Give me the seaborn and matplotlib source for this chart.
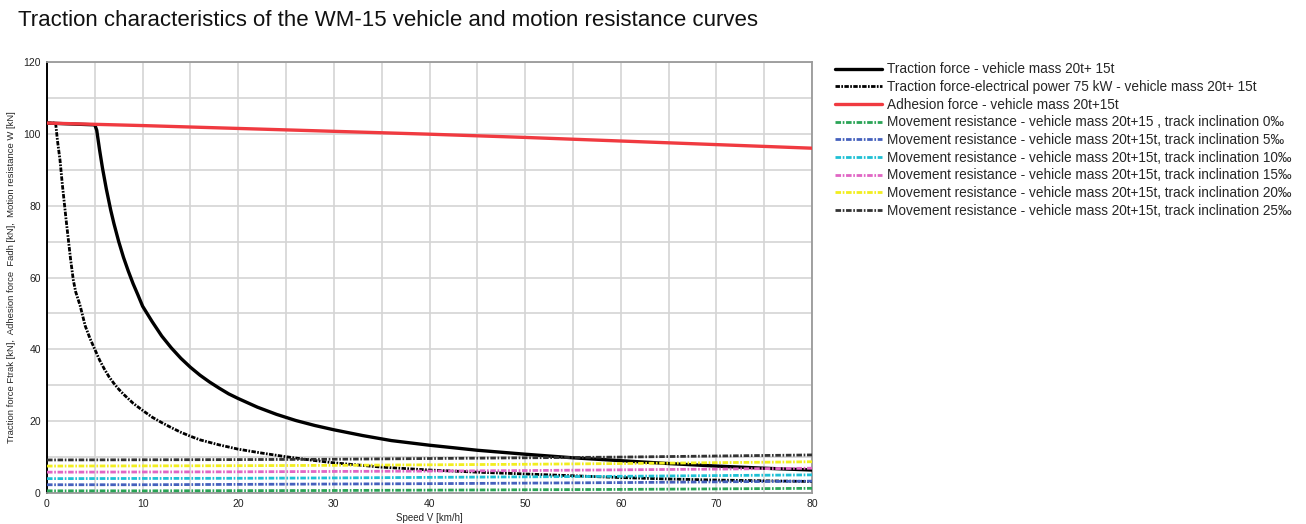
import numpy as np
import pandas as pd
import matplotlib
matplotlib.use("Agg")
import matplotlib.pyplot as plt
import seaborn as sns

# ---------------- data ----------------
trac_v = [0, 5.0, 5.2, 5.5, 5.8, 6.2, 6.66, 7, 7.5, 8, 8.5, 9, 9.5, 10, 11, 12, 13,
          14, 15, 16, 17, 18, 19, 20, 22, 24, 26, 28, 30, 33, 36, 40, 45, 50, 55,
          60, 65, 70, 75, 80]
trac_f = [103.0, 102.5, 101.0, 95.5, 90.5, 84.7, 78.8, 75.0, 70.0, 65.6, 61.8, 58.3,
          55.2, 52.0, 47.7, 43.7, 40.4, 37.5, 35.0, 32.8, 30.9, 29.2, 27.6, 26.3,
          23.9, 21.9, 20.2, 18.8, 17.6, 16.0, 14.6, 13.3, 11.9, 10.8, 9.8, 9.0, 8.2,
          7.5, 6.9, 6.4]

el_v = [0, 0.9, 1.1, 1.36, 1.6, 2.0, 2.47, 2.75, 3.0, 3.45, 4, 4.5, 5, 5.5, 6, 6.5,
        7, 7.5, 8, 9, 10, 11, 12, 13, 14, 15, 16, 18, 20, 22.5, 25, 27.5, 30, 35,
        40, 45, 50, 55, 60, 65, 70, 75, 80]
el_f = [103.0, 103.0, 98.0, 92.7, 86.0, 76.0, 65.0, 59.3, 56.0, 52.3, 46.5, 43.0,
        40.0, 37.0, 34.5, 32.3, 30.5, 28.9, 27.5, 25.0, 23.0, 21.1, 19.6, 18.2, 16.9,
        15.8, 14.8, 13.4, 12.2, 11.1, 10.1, 9.2, 8.4, 7.2, 6.4, 5.8, 5.3, 4.8, 4.3,
        3.9, 3.6, 3.4, 3.2]

adh_v = [0, 10, 20, 30, 40, 50, 60, 70, 80]
adh_f = [103.0, 102.3, 101.5, 100.7, 99.9, 99.0, 98.0, 97.0, 96.0]

res_v = [0, 10, 20, 30, 40, 50, 60, 70, 80]
res_0 = [0.6, 0.6, 0.65, 0.7, 0.8, 0.9, 1.0, 1.15, 1.3]
res_5 = [2.3, 2.3, 2.4, 2.5, 2.6, 2.75, 2.9, 3.1, 3.3]
res_10 = [4.0, 4.05, 4.1, 4.2, 4.35, 4.5, 4.65, 4.85, 5.05]
res_15 = [5.8, 5.85, 5.9, 6.0, 6.1, 6.25, 6.45, 6.65, 6.9]
res_20 = [7.5, 7.55, 7.6, 7.7, 7.85, 8.0, 8.2, 8.45, 8.7]
res_25 = [9.2, 9.25, 9.3, 9.4, 9.6, 9.8, 10.0, 10.3, 10.6]

labels = [
    "Traction force - vehicle mass 20t+ 15t",
    "Traction force-electrical power 75 kW - vehicle mass 20t+ 15t",
    "Adhesion force - vehicle mass 20t+15t",
    "Movement resistance - vehicle mass 20t+15 , track inclination 0‰",
    "Movement resistance - vehicle mass 20t+15t, track inclination 5‰",
    "Movement resistance - vehicle mass 20t+15t, track inclination 10‰",
    "Movement resistance - vehicle mass 20t+15t, track inclination 15‰",
    "Movement resistance - vehicle mass 20t+15t, track inclination 20‰",
    "Movement resistance - vehicle mass 20t+15t, track inclination 25‰",
]

# ---------------- styling ----------------
sns.set_style("white")
plt.rcParams['font.family'] = ['Liberation Sans', 'DejaVu Sans']

fig = plt.figure(figsize=(13.06, 5.24), dpi=100)
ax = fig.add_axes([47/1306, 31/524, 765/1306, 431/524])

series = [
    (trac_v, trac_f, "#000000", 2.4, None),
    (el_v, el_f, "#000000", 2.0, (1.6, 0.5, 0.6, 0.5)),
    (adh_v, adh_f, "#f03a40", 2.4, None),
    (res_v, res_0, "#2aa456", 2.0, (2.0, 0.6, 0.6, 0.6)),
    (res_v, res_5, "#4561bd", 2.0, (2.0, 0.6, 0.6, 0.6)),
    (res_v, res_10, "#1fc0d4", 2.0, (2.0, 0.6, 0.6, 0.6)),
    (res_v, res_15, "#e066c4", 2.0, (2.0, 0.6, 0.6, 0.6)),
    (res_v, res_20, "#f2ee1e", 2.0, (2.0, 0.6, 0.6, 0.6)),
    (res_v, res_25, "#333333", 2.0, (2.0, 0.6, 0.6, 0.6)),
]

order = [3, 4, 5, 6, 7, 8, 1, 0, 2]
handles = {}
for i in order:
    xv, yv, col, lw, dash = series[i]
    df = pd.DataFrame({"V": xv, "F": yv})
    sns.lineplot(data=df, x="V", y="F", ax=ax, color=col, linewidth=lw,
                 estimator=None, sort=False, zorder=3 + i * 0.1)
    ln = ax.lines[-1]
    ln.set_solid_joinstyle("round")
    if dash is not None:
        ln.set_dashes(dash)
    ln.set_label(labels[i])
    handles[i] = ln

ax.set_xlim(0, 80)
ax.set_ylim(0, 120)
ax.set_xticks(np.arange(0, 81, 10))
ax.set_xticks(np.arange(5, 80, 10), minor=True)
ax.set_yticks(np.arange(0, 121, 20))
ax.set_yticks(np.arange(10, 120, 20), minor=True)
ax.grid(True, which="both", color="#d4d4d4", linewidth=1.2, zorder=0)
ax.set_axisbelow(True)
ax.tick_params(axis="both", which="both", direction="out", labelsize=7.5,
               length=3, width=0.8, color="#555555", pad=1.5, labelcolor="#222222")
ax.tick_params(axis="both", which="minor", length=2)

for s in ["top", "right", "bottom"]:
    ax.spines[s].set_color("#9a9a9a")
    ax.spines[s].set_linewidth(1.3)
ax.spines["left"].set_color("#000000")
ax.spines["left"].set_linewidth(1.4)

ax.set_xlabel("Speed V [km/h]", fontsize=7, labelpad=3)
ax.set_ylabel("Traction force Ftrak [kN],  Adhesion force  Fadh [kN],  Motion resistance W [kN]",
              fontsize=6.8, labelpad=5)

fig.text(18/1306, 1 - 20/524, "Traction characteristics of the WM-15 vehicle and motion resistance curves",
         fontsize=16, ha="left", va="center", color="#111111")

leg = ax.legend([handles[i] for i in range(9)], labels,
                loc="upper left", bbox_to_anchor=(834/1306, 1 - 61/524),
                bbox_transform=fig.transFigure, frameon=False, fontsize=9.8,
                handlelength=3.45, handletextpad=0.37, labelspacing=0.27,
                borderpad=0.1, borderaxespad=0)

fig.savefig("out.png", dpi=100)
